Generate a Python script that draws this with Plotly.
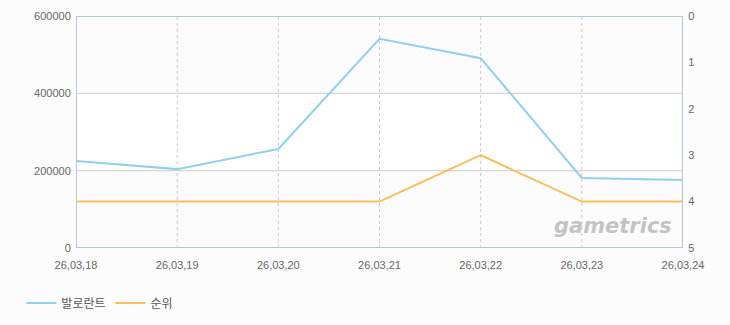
import plotly.graph_objects as go

dates = ["26,03,18", "26,03,19", "26,03,20", "26,03,21", "26,03,22", "26,03,23", "26,03,24"]
players = [225000, 204000, 256000, 541000, 491000, 181000, 176000]
rank = [4, 4, 4, 4, 3, 4, 4]
y_ticks = [0, 200000, 400000, 600000]
rank_ticks = [0, 1, 2, 3, 4, 5]

xs = list(range(len(dates)))

fig = go.Figure()
fig.add_trace(go.Scatter(x=xs, y=players, name="발로란트", mode="lines",
                         line=dict(color="#8fd0f0", width=2), yaxis="y"))
fig.add_trace(go.Scatter(x=xs, y=rank, name="순위", mode="lines",
                         line=dict(color="#fbbd5a", width=2), yaxis="y2"))

shapes = []
shapes.append(dict(type="rect", xref="x", yref="y", x0=0, x1=6, y0=200000, y1=400000,
                   fillcolor="#ffffff", line=dict(width=0), layer="below"))
for t in [200000, 400000]:
    shapes.append(dict(type="line", xref="x", yref="y", x0=0, x1=6, y0=t, y1=t,
                       line=dict(color="#cccccc", width=1), layer="below"))
for i in range(1, len(dates) - 1):
    shapes.append(dict(type="line", xref="x", yref="y", x0=i, x1=i, y0=0, y1=600000,
                       line=dict(color="#c8c8c8", width=1, dash="3px,3px"), layer="below"))
shapes.append(dict(type="rect", xref="x", yref="y", x0=0, x1=6, y0=0, y1=600000,
                   line=dict(color="#b4c6d8", width=2), layer="above"))

tf = dict(family="Liberation Sans, Arial, sans-serif", size=11, color="#666666")

fig.update_layout(
    width=730, height=325,
    margin=dict(l=76, r=47, t=16, b=77, autoexpand=False),
    paper_bgcolor="#fcfcfc", plot_bgcolor="#fcfcfc",
    font=dict(family="Noto Sans CJK KR, Noto Sans, sans-serif", size=11, color="#666666"),
    xaxis=dict(range=[0, 6], tickvals=xs, ticktext=dates, showgrid=False, zeroline=False,
               showline=False, ticks="outside", ticklen=7, tickcolor="rgba(0,0,0,0)",
               tickfont=tf, automargin=False),
    yaxis=dict(range=[0, 600000], tickvals=y_ticks, ticktext=[str(v) for v in y_ticks],
               showgrid=False, zeroline=False, showline=False, ticks="outside", ticklen=2,
               tickcolor="rgba(0,0,0,0)", tickfont=tf, automargin=False),
    yaxis2=dict(range=[5, 0], tickvals=rank_ticks, overlaying="y", side="right",
                showgrid=False, zeroline=False, showline=False, ticks="outside", ticklen=2,
                tickcolor="rgba(0,0,0,0)", tickfont=tf, automargin=False),
    shapes=shapes,
    showlegend=True,
    legend=dict(orientation="h", x=-0.09, xanchor="left", y=-0.175, yanchor="top",
                font=dict(size=12, color="#555555"), bgcolor="rgba(0,0,0,0)",
                itemwidth=30),
    annotations=[dict(x=0.985, y=0.035, xref="paper", yref="paper", xanchor="right", yanchor="bottom",
                      text="<b><i>gametrics</i></b>", showarrow=False,
                      font=dict(size=21, color="rgba(185,185,185,0.85)", family="DejaVu Sans"))],
)

fig.write_html("out.html")
